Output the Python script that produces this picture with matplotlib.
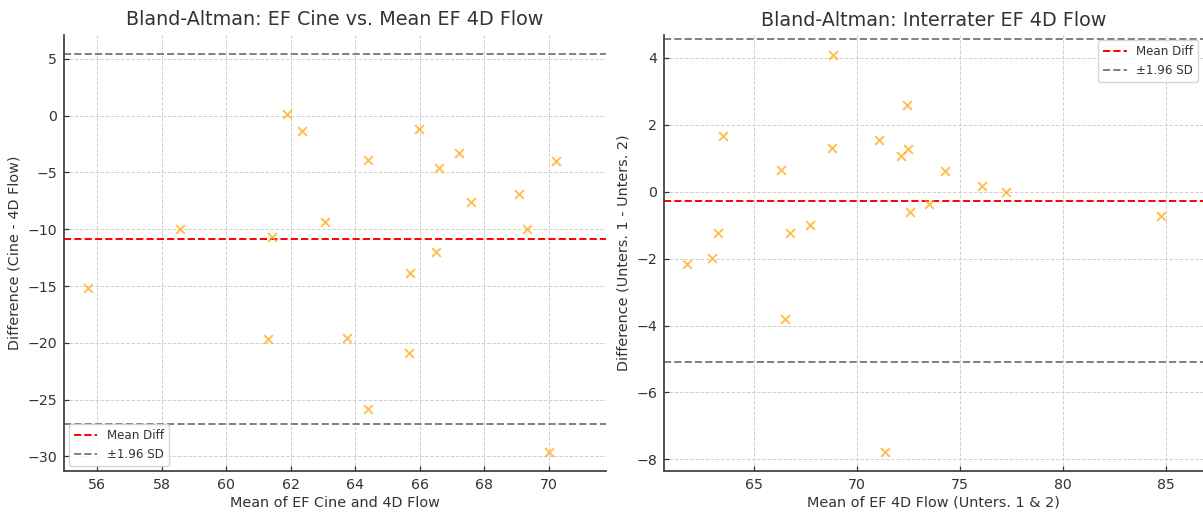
import numpy as np
import matplotlib
matplotlib.use("Agg")
import matplotlib.pyplot as plt

# ---- Data: EF Cine vs. Mean EF 4D Flow ----
cine_mean = [58.56, 61.43, 61.89, 62.35, 63.06, 64.40, 65.70, 65.99, 66.50, 66.58,
             67.22, 67.60, 69.07, 69.32, 70.21, 55.72, 61.29, 63.75, 65.68, 64.38, 70.01]
cine_diff = [-10.00, -10.70, 0.18, -1.32, -9.38, -3.90, -13.87, -1.17, -12.02, -4.60,
             -3.28, -7.57, -6.92, -10.00, -3.99, -15.14, -19.66, -19.54, -20.89, -25.79, -29.58]
cine_mean_diff = -10.88
cine_upper = 5.40
cine_lower = -27.14

# ---- Data: Interrater EF 4D Flow ----
inter_mean = [61.76, 62.95, 63.25, 63.50, 66.31, 66.73, 67.73, 68.80, 68.83, 71.07,
              72.15, 72.44, 72.49, 72.59, 73.50, 74.29, 76.07, 77.23, 84.74, 66.52, 71.36]
inter_diff = [-2.15, -1.99, -1.24, 1.66, 0.645, -1.24, -1.01, 1.31, 4.08, 1.54,
              1.07, 2.60, 1.28, -0.61, -0.37, 0.61, 0.17, -0.01, -0.73, -3.81, -7.77]
inter_mean_diff = -0.28
inter_upper = 4.55
inter_lower = -5.10

TXT = "#333333"
plt.rcParams['font.family'] = ['DejaVu Sans']
plt.rcParams['text.color'] = TXT
plt.rcParams['axes.labelcolor'] = TXT
plt.rcParams['xtick.color'] = TXT
plt.rcParams['ytick.color'] = TXT

fig = plt.figure(figsize=(12.03, 5.12), dpi=100)
ax1 = fig.add_axes([0.0532, 0.0807, 0.4505, 0.851])
ax2 = fig.add_axes([0.552, 0.0807, 0.448, 0.850])


def style(ax):
    for s in ['top', 'right']:
        ax.spines[s].set_visible(False)
    for s in ['left', 'bottom']:
        ax.spines[s].set_color('#444444')
        ax.spines[s].set_linewidth(1.3)
    ax.tick_params(direction='in', length=3.5, width=0.9, labelsize=10.2, pad=5)
    ax.grid(True, linestyle='--', color='#cccccc', linewidth=0.7, alpha=0.9)
    ax.set_axisbelow(True)


def panel(ax, xs, ys, md, up, lo, title, xlabel, ylabel, loc):
    style(ax)
    ax.scatter(xs, ys, marker='x', color='orange', alpha=0.7, s=40, linewidths=1.4, zorder=3)
    ax.axhline(md, color='red', linestyle='--', linewidth=1.4, label='Mean Diff')
    ax.axhline(up, color='gray', linestyle='--', linewidth=1.4, label='±1.96 SD')
    ax.axhline(lo, color='gray', linestyle='--', linewidth=1.4)
    ax.set_title(title, fontsize=13.8, pad=7)
    ax.set_xlabel(xlabel, fontsize=10.4, labelpad=3)
    ax.set_ylabel(ylabel, fontsize=10.4, labelpad=4)
    leg = ax.legend(loc=loc, fontsize=8.6, frameon=True, fancybox=True,
                    borderaxespad=0.4, handlelength=2.0)
    leg.get_frame().set_edgecolor('#cccccc')


panel(ax1, cine_mean, cine_diff, cine_mean_diff, cine_upper, cine_lower,
      'Bland-Altman: EF Cine vs. Mean EF 4D Flow',
      'Mean of EF Cine and 4D Flow', 'Difference (Cine - 4D Flow)', 'lower left')
ax1.set_xlim(54.97, 71.77)
ax1.set_ylim(-31.25, 7.1)
ax1.set_xticks(np.arange(56, 71, 2))
ax1.set_yticks(np.arange(-30, 6, 5))

panel(ax2, inter_mean, inter_diff, inter_mean_diff, inter_upper, inter_lower,
      'Bland-Altman: Interrater EF 4D Flow',
      'Mean of EF 4D Flow (Unters. 1 & 2)', 'Difference (Unters. 1 - Unters. 2)', 'upper right')
ax2.set_xlim(60.63, 86.8)
ax2.set_ylim(-8.34, 4.67)
ax2.set_xticks([65, 70, 75, 80, 85])
ax2.set_yticks(np.arange(-8, 5, 2))

fig.savefig('out.png', dpi=100)
